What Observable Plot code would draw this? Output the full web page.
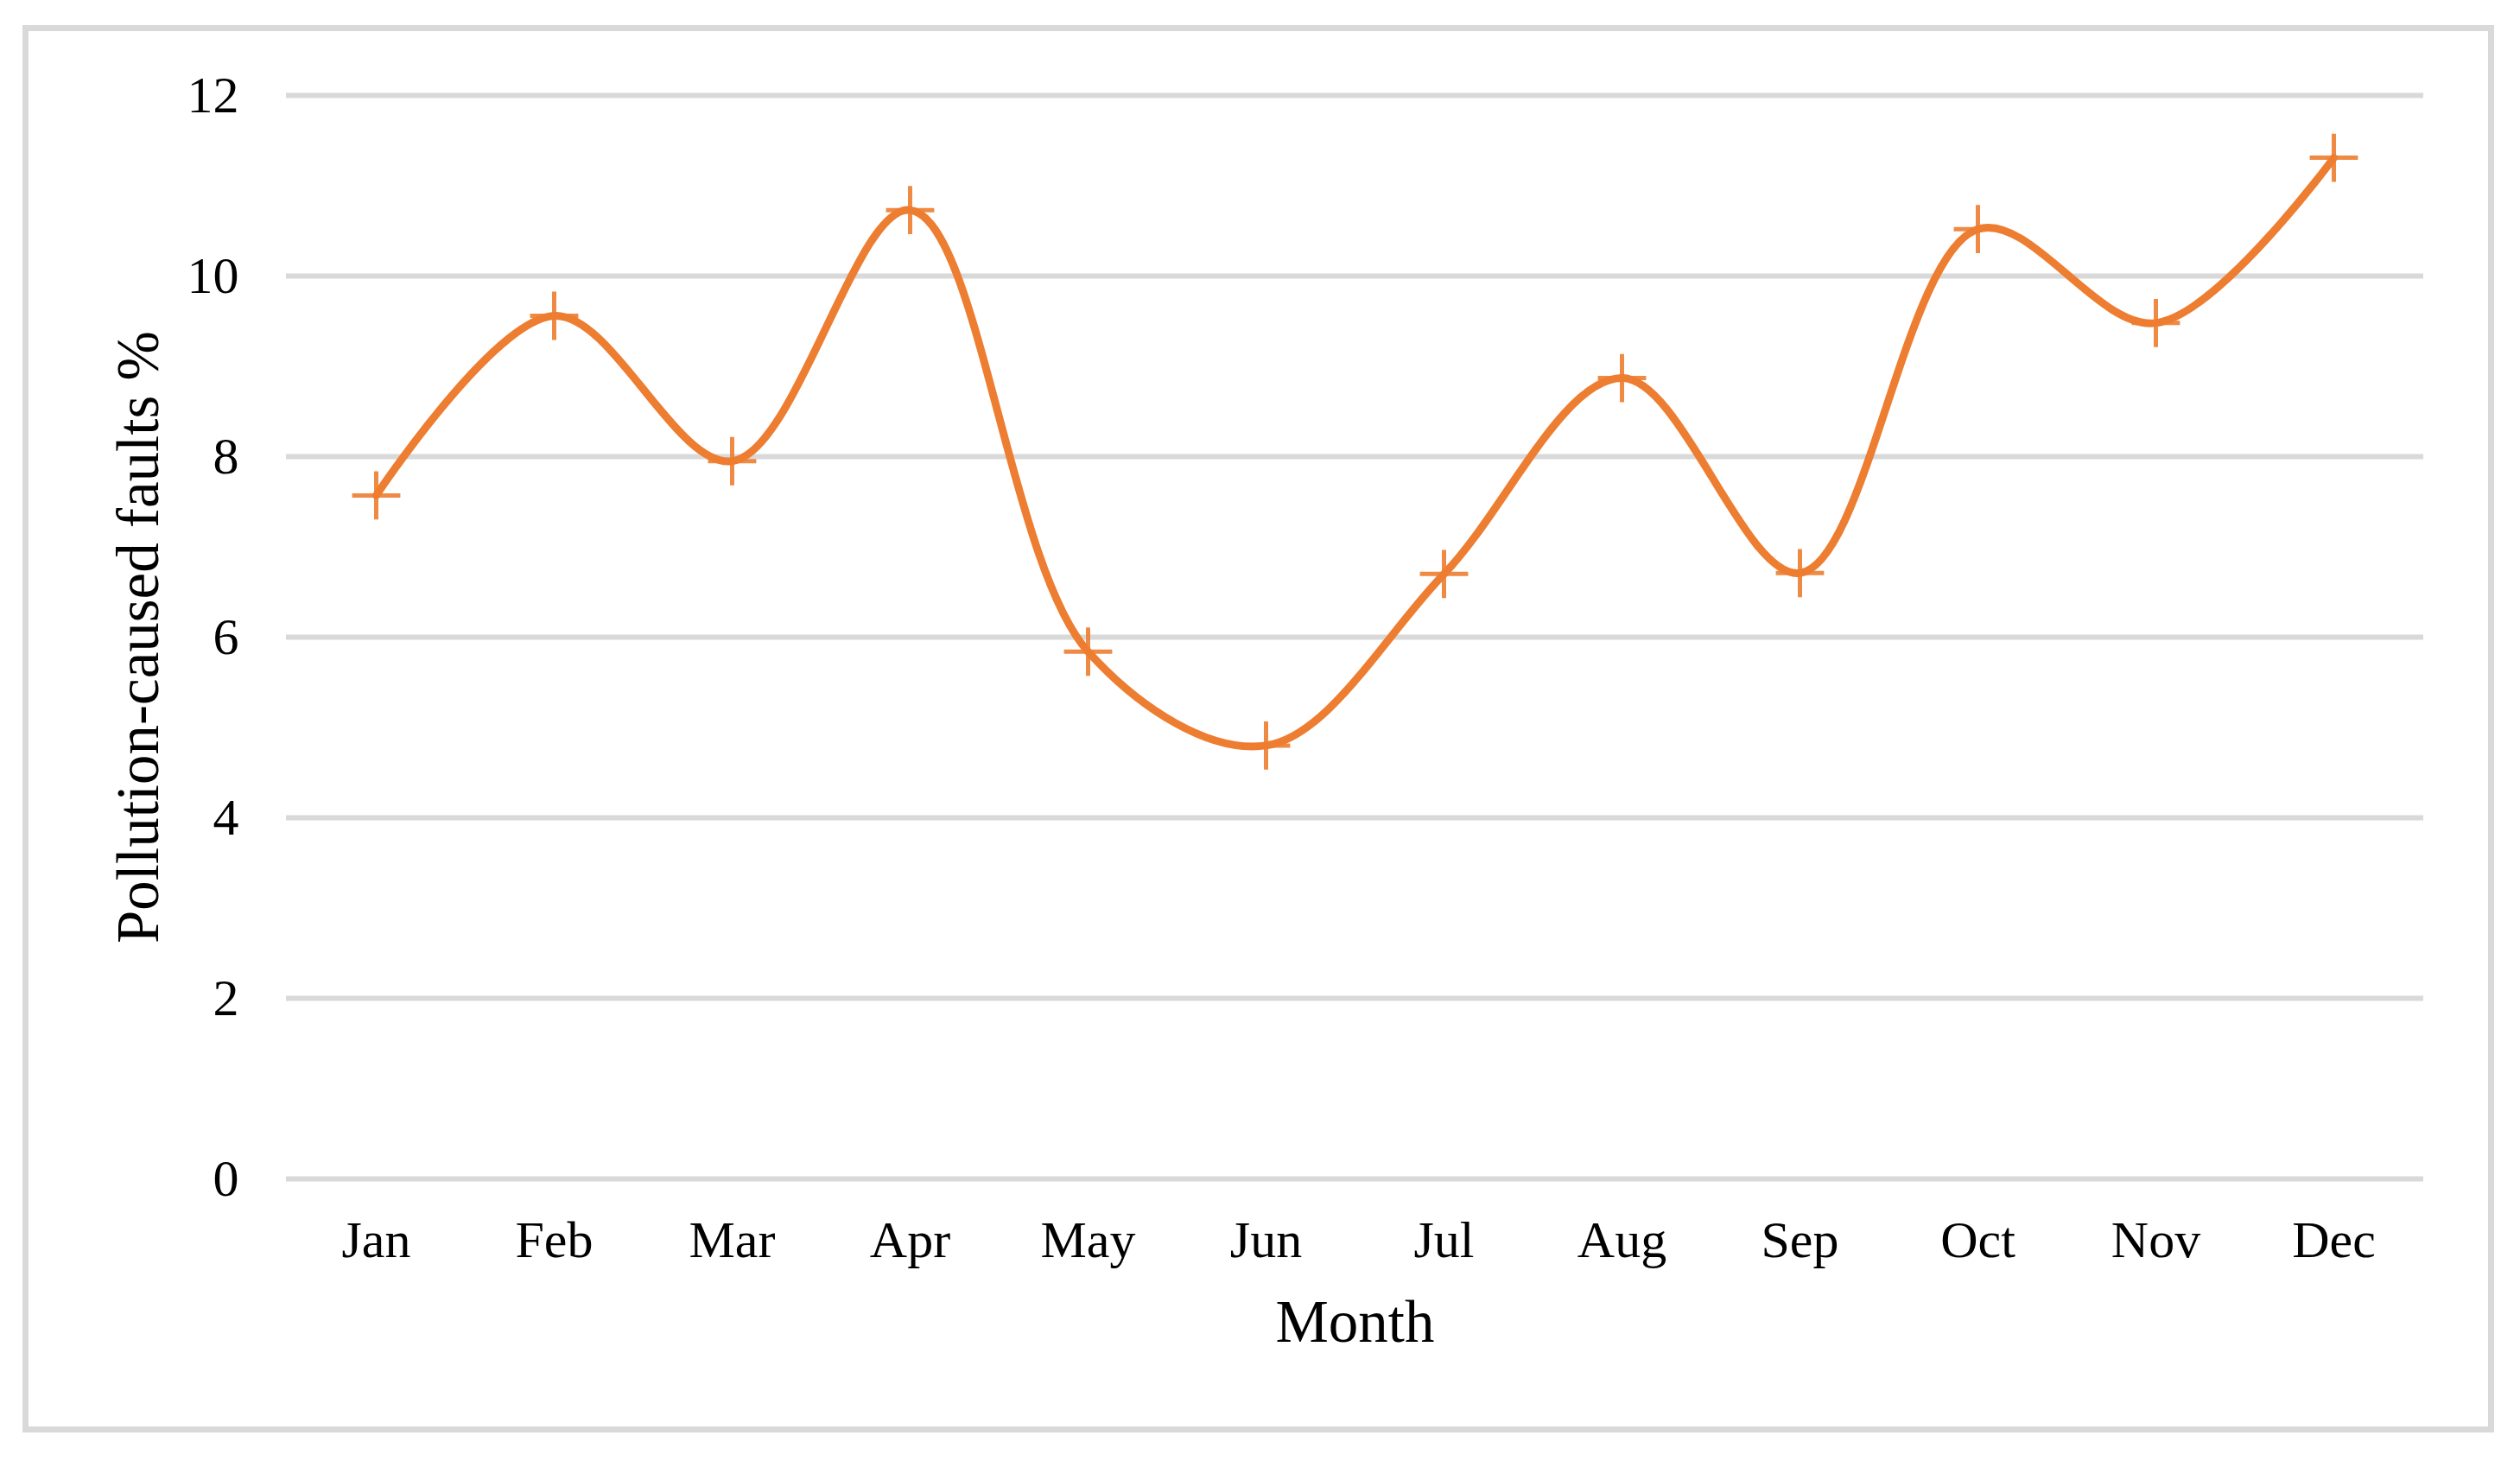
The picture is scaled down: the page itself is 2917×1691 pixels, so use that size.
<!DOCTYPE html>
<html>
<head>
<meta charset="utf-8">
<script src="https://cdn.jsdelivr.net/npm/d3@7"></script>
<script src="https://cdn.jsdelivr.net/npm/@observablehq/plot@0.6"></script>
<style>
html, body { margin: 0; padding: 0; background: #fff; }
#wrap { position: relative; width: 2917px; height: 1691px; overflow: hidden; }
#border { position: absolute; left: 26px; top: 29px; width: 2847px; height: 1615px; border: 7px solid #d9d9d9; }
#chart { position: absolute; left: 0; top: 0; }
#chart [aria-label="x-axis label"], #chart [aria-label="y-axis label"] { font-size: 69px; }
</style>
</head>
<body>
<div id="wrap"><div id="border"></div><div id="chart"></div></div>
<script>
const months = ["Jan", "Feb", "Mar", "Apr", "May", "Jun", "Jul", "Aug", "Sep", "Oct", "Nov", "Dec"];
const faults = [7.57, 9.56, 7.95, 10.73, 5.84, 4.8, 6.7, 8.87, 6.71, 10.52, 9.48, 11.31];
const yTicks = [0, 2, 4, 6, 8, 10, 12];
const xLabel = "Month";
const yLabel = "Pollution-caused faults %";

const data = months.map((m, i) => ({month: m, value: faults[i]}));
const orange = "#ED7D31";

const chart = Plot.plot({
  width: 2917,
  height: 1691,
  marginLeft: 331,
  marginRight: 112,
  marginTop: 110,
  marginBottom: 327,
  style: {fontFamily: '"Liberation Serif", "Times New Roman", serif', background: "transparent", color: "#000"},
  x: {type: "point", domain: months, padding: 0.5},
  y: {domain: [0, 12]},
  marks: [
    Plot.gridY(yTicks, {stroke: "#d9d9d9", strokeOpacity: 1, strokeWidth: 6}),
    Plot.axisY(yTicks, {tickSize: 0, tickPadding: 55, fontSize: 60, tickFormat: d => String(d), label: yLabel, labelAnchor: "center", labelArrow: "none", labelOffset: 198}),
    Plot.axisX({tickSize: 0, tickPadding: 48, fontSize: 60, label: xLabel, labelAnchor: "center", labelArrow: "none", labelOffset: 188}),
    Plot.line(data, {x: "month", y: "value", curve: "catmull-rom", stroke: orange, strokeWidth: 9}),
    Plot.dot(data, {x: "month", y: "value", symbol: "plus", r: 18, stroke: orange, strokeOpacity: 0.9, strokeWidth: 5, fill: "none"})
  ]
});
document.getElementById("chart").appendChild(chart);
</script>
</body>
</html>
